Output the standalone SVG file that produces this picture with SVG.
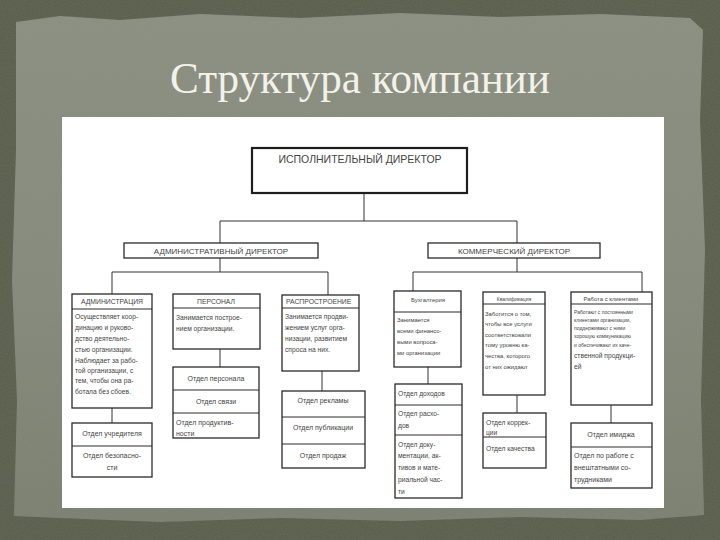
<svg xmlns="http://www.w3.org/2000/svg" width="720" height="540" viewBox="0 0 720 540">
<defs>
<linearGradient id="paper" x1="0" y1="0" x2="0" y2="1">
<stop offset="0" stop-color="#8b8f82"/>
<stop offset="0.5" stop-color="#858a7c"/>
<stop offset="1" stop-color="#7a7f70"/>
</linearGradient>
<filter id="grain" x="0" y="0" width="100%" height="100%">
<feTurbulence type="fractalNoise" baseFrequency="0.9" numOctaves="2" seed="3" result="n"/>
<feColorMatrix type="matrix" values="0 0 0 0 0.3  0 0 0 0 0.32  0 0 0 0 0.26  0 0 0 0.25 0" in="n" result="c"/>
<feComposite in="c" in2="SourceGraphic" operator="in"/>
</filter>
<style>
.box{fill:#ffffff;stroke:#2a2a2a;stroke-width:1.3}
.thick{fill:#ffffff;stroke:#1e1e1e;stroke-width:2.2}
.div{stroke:#2a2a2a;stroke-width:1}
.conn{fill:none;stroke:#333333;stroke-width:1}
text{font-family:"Liberation Sans","DejaVu Sans",Arial,sans-serif;fill:#444444}
.c{text-anchor:middle}
.hd{font-size:6.8px}
.bd{font-size:6.7px}
.sm{font-size:5.9px}
.xs{font-size:5px}
.sb{font-size:7px}
</style>
</defs>
<g id="background">
<rect x="0" y="0" width="720" height="540" fill="#565c49"/>
<path d="M16 22 L60 16 L120 20 L200 14 L300 18 L400 13 L500 17 L600 14 L690 18 L703 30 L700 120 L705 250 L701 400 L704 515 L640 520 L520 517 L400 521 L280 518 L160 522 L60 518 L14 516 L17 400 L12 280 L16 150 Z" fill="url(#paper)"/>
<rect x="0" y="0" width="720" height="540" fill="#000" filter="url(#grain)"/>
</g>
<text id="title" x="360" y="93" text-anchor="middle" textLength="380" lengthAdjust="spacingAndGlyphs" style="font-family:'Liberation Serif','DejaVu Serif',serif;font-size:44px;fill:#f3f2ea">Структура компании</text>
<rect id="panel" x="62" y="117" width="602" height="391" fill="#ffffff"/>
<g id="connectors" class="conn">
<path d="M364 193 V221 M220 221 H517 M220 221 V243 M517 221 V243"/>
<path d="M220 258 V272 M112 272 H328 M112 272 V294 M328 272 V295"/>
<path d="M517 258 V272 M413 272 H642 M413 272 V291 M642 272 V292"/>
<path d="M112 408 V423 M220 349 V367 M322 371 V391 M428 367 V384 M517 395 V413 M611 405 V423"/>
</g>
<g id="exec">
<rect class="thick" x="252" y="148" width="215" height="45"/>
<text class="c" x="360" y="163" style="font-size:10.5px">ИСПОЛНИТЕЛЬНЫЙ ДИРЕКТОР</text>
</g>
<g id="admin-director">
<rect class="box" x="124" y="243" width="194" height="15"/>
<text class="c" x="221" y="254" style="font-size:8px">АДМИНИСТРАТИВНЫЙ ДИРЕКТОР</text>
</g>
<g id="commercial-director">
<rect class="box" x="428" y="243" width="172" height="15"/>
<text class="c" x="514" y="254" style="font-size:8px">КОММЕРЧЕСКИЙ ДИРЕКТОР</text>
</g>
<g id="administration">
<rect class="box" x="72" y="294" width="80" height="114"/>
<line class="div" x1="72" y1="309" x2="152" y2="309"/>
<text class="c hd" x="112" y="304">АДМИНИСТРАЦИЯ</text>
<text class="bd" x="75" y="319">Осуществляет коор-</text>
<text class="bd" x="75" y="330">динацию и руково-</text>
<text class="bd" x="75" y="341">дство деятельно-</text>
<text class="bd" x="75" y="352">стью организации.</text>
<text class="bd" x="75" y="363">Наблюдает за рабо-</text>
<text class="bd" x="75" y="373">той организации, с</text>
<text class="bd" x="75" y="383">тем, чтобы она ра-</text>
<text class="bd" x="75" y="394">ботала без сбоев.</text>
</g>
<g id="administration-depts">
<rect class="box" x="72" y="423" width="80" height="54"/>
<line class="div" x1="72" y1="446" x2="152" y2="446"/>
<text class="c sb" x="112" y="436">Отдел учредителя</text>
<text class="c sb" x="112" y="458">Отдел безопасно-</text>
<text class="c sb" x="112" y="470">сти</text>
</g>
<g id="personnel">
<rect class="box" x="173" y="294" width="87" height="55"/>
<line class="div" x1="173" y1="308" x2="260" y2="308"/>
<text class="c hd" x="216" y="304">ПЕРСОНАЛ</text>
<text class="bd" x="176" y="320">Занимается построе-</text>
<text class="bd" x="176" y="331">нием организации.</text>
</g>
<g id="personnel-depts">
<rect class="box" x="173" y="367" width="86" height="71"/>
<line class="div" x1="173" y1="390" x2="259" y2="390"/>
<line class="div" x1="173" y1="413" x2="259" y2="413"/>
<text class="c sb" x="216" y="381">Отдел персонала</text>
<text class="c sb" x="216" y="404">Отдел связи</text>
<text class="sb" x="176" y="425">Отдел продуктив-</text>
<text class="sb" x="176" y="436">ности</text>
</g>
<g id="distribution">
<rect class="box" x="282" y="295" width="77" height="76"/>
<line class="div" x1="282" y1="308" x2="359" y2="308"/>
<text class="hd" x="286" y="304">РАСПРОСТРОЕНИЕ</text>
<text class="bd" x="285" y="319">Занимается продви-</text>
<text class="bd" x="285" y="330">жением услуг орга-</text>
<text class="bd" x="285" y="341">низации, развитием</text>
<text class="bd" x="285" y="352">спроса на них.</text>
</g>
<g id="distribution-depts">
<rect class="box" x="282" y="391" width="83" height="77"/>
<line class="div" x1="282" y1="417" x2="365" y2="417"/>
<line class="div" x1="282" y1="444" x2="365" y2="444"/>
<text class="c sb" x="323" y="403">Отдел рекламы</text>
<text class="c sb" x="323" y="430">Отдел публикации</text>
<text class="c sb" x="323" y="458">Отдел продаж</text>
</g>
<g id="accounting">
<rect class="box" x="394" y="291" width="67" height="76"/>
<line class="div" x1="394" y1="312" x2="461" y2="312"/>
<text class="c sm" x="428" y="302">Бухгалтерия</text>
<text class="sm" x="397" y="322">Занимается</text>
<text class="sm" x="397" y="333">всеми финансо-</text>
<text class="sm" x="397" y="344">выми вопроса-</text>
<text class="sm" x="397" y="355">ми организации</text>
</g>
<g id="accounting-depts">
<rect class="box" x="395" y="384" width="67" height="114"/>
<line class="div" x1="395" y1="405" x2="462" y2="405"/>
<line class="div" x1="395" y1="435" x2="462" y2="435"/>
<text class="bd" x="398" y="396">Отдел доходов</text>
<text class="bd" x="398" y="416">Отдел расхо-</text>
<text class="bd" x="398" y="428">дов</text>
<text class="bd" x="398" y="447">Отдел доку-</text>
<text class="bd" x="398" y="458">ментации, ак-</text>
<text class="bd" x="398" y="470">тивов и мате-</text>
<text class="bd" x="398" y="482">риальной час-</text>
<text class="bd" x="398" y="494">ти</text>
</g>
<g id="qualification">
<rect class="box" x="483" y="292" width="62" height="103"/>
<line class="div" x1="483" y1="304" x2="545" y2="304"/>
<text class="c xs" x="514" y="301">Квалификация</text>
<text class="sm" x="485" y="316">Заботится о том,</text>
<text class="sm" x="485" y="326">чтобы все услуги</text>
<text class="sm" x="485" y="337">соответствовали</text>
<text class="sm" x="485" y="347">тому уровню ка-</text>
<text class="sm" x="485" y="358">чества, которого</text>
<text class="sm" x="485" y="369">от них ожидают</text>
</g>
<g id="qualification-depts">
<rect class="box" x="483" y="413" width="63" height="55"/>
<line class="div" x1="483" y1="437" x2="546" y2="437"/>
<text class="bd" x="486" y="425">Отдел коррек-</text>
<text class="bd" x="486" y="435">ции</text>
<text class="bd" x="486" y="451">Отдел качества</text>
</g>
<g id="clients">
<rect class="box" x="571" y="292" width="81" height="113"/>
<line class="div" x1="571" y1="304" x2="652" y2="304"/>
<text class="c sm" x="611" y="301">Работа с клиентами</text>
<text class="xs" x="574" y="314">Работают с постоянными</text>
<text class="xs" x="574" y="322">клиентами организации,</text>
<text class="xs" x="574" y="330">поддерживают с ними</text>
<text class="xs" x="574" y="338">хорошую коммуникацию</text>
<text class="xs" x="574" y="347">и обеспечивают их каче-</text>
<text class="bd" x="574" y="358">ственной продукци-</text>
<text class="bd" x="574" y="369">ей</text>
</g>
<g id="clients-depts">
<rect class="box" x="571" y="423" width="81" height="65"/>
<line class="div" x1="571" y1="447" x2="652" y2="447"/>
<text class="c sb" x="611" y="437">Отдел имиджа</text>
<text class="sb" x="574" y="458">Отдел по работе с</text>
<text class="sb" x="574" y="470">внештатными со-</text>
<text class="sb" x="574" y="482">трудниками</text>
</g>
</svg>
